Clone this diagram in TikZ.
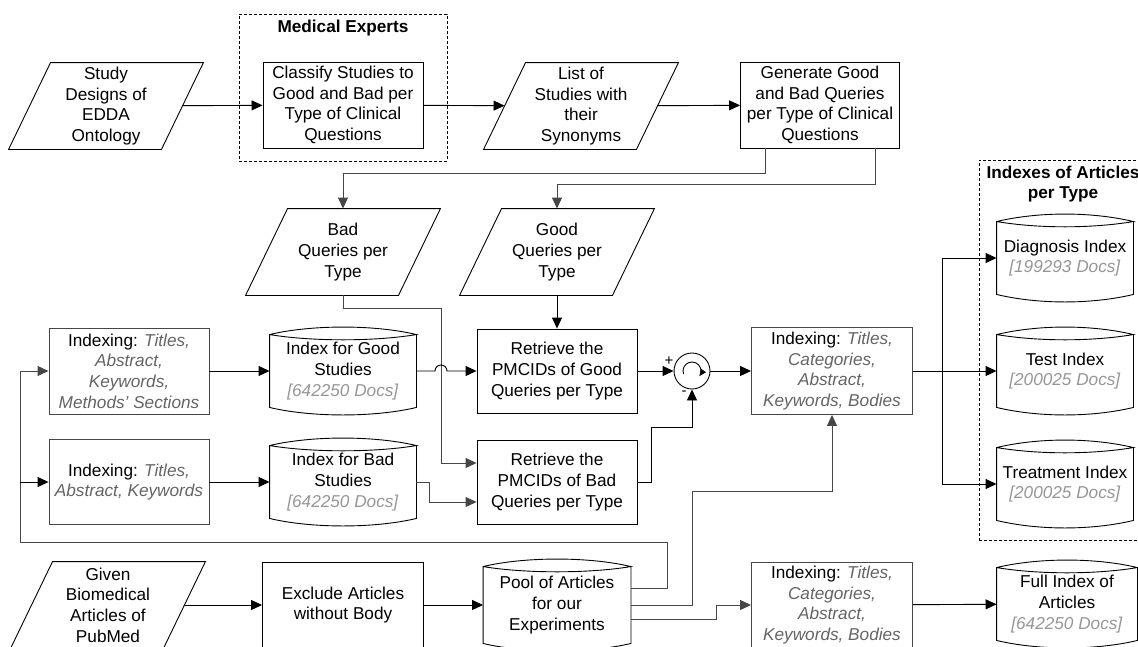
\documentclass[tikz,border=0pt]{standalone}
\usepackage{fontspec}
\setmainfont{Liberation Sans}
\usetikzlibrary{positioning,calc,arrows.meta,fit}

\definecolor{fieldgray}{RGB}{100,100,100}
\definecolor{docgray}{RGB}{150,150,150}
\definecolor{linegray}{RGB}{70,70,70}
\newcommand{\fld}[1]{\textcolor{fieldgray}{\textit{#1}}}
\newcommand{\docs}[1]{\textcolor{docgray}{\textit{[#1 Docs]}}}

\begin{document}
\begin{tikzpicture}[
  x=1pt, y=-1pt,
  line width=0.9pt,
  font=\fontsize{17.2}{20.7}\selectfont,
  process/.style={draw, rectangle, minimum width=160, minimum height=86, inner sep=1pt, align=center},
  indexing/.style={process, draw=linegray},
  slanted/.style={rectangle, minimum width=152, minimum height=86, inner sep=1pt, align=center},
  store/.style={rectangle, minimum width=146, minimum height=88, inner sep=1pt, align=center},
  dashgroup/.style={draw, dash pattern=on 3pt off 2pt, inner sep=0pt},
  heading/.style={font=\fontsize{17.2}{20.7}\selectfont\bfseries, align=center},
  sign/.style={inner sep=0pt, font=\fontsize{15}{15}\selectfont},
  flow/.style={-{Triangle[length=11pt,width=10pt]}},
  grey-flow/.style={flow, draw=linegray},
  ]
  \useasboundingbox (0,0) rectangle (1138,646);

  % top row
  \node [slanted] (designs) at (106,106) {Study\\Designs of\\EDDA\\Ontology};
  \node [process] (classify) at (343,105) {Classify Studies to\\Good and Bad per\\Type of Clinical\\Questions};
  \node [dashgroup, fit={(239,14) (447,161)}] (experts) {};
  \node [heading] (expertsname) at (343,28) {Medical Experts};
  \node [slanted] (studylist) at (581,106) {List of\\Studies with\\their\\Synonyms};
  \node [process, minimum width=159] (generate) at (820,105) {Generate Good\\and Bad Queries\\per Type of Clinical\\Questions};

  \node [slanted] (badq) at (343,252) {Bad\\Queries per\\Type};
  \node [slanted] (goodq) at (557,252) {Good\\Queries per\\Type};

  % indexing of the studies
  \node [indexing] (index1) at (129,371) {Indexing: \fld{Titles,}\\\fld{Abstract,}\\\fld{Keywords,}\\\fld{Methods' Sections}};
  \node [store] (idxgood) at (343,371) {Index for Good\\Studies\\\docs{642250}};
  \node [process, minimum height=84] (retgood) at (557,371) {Retrieve the\\PMCIDs of Good\\Queries per Type};
  \node [circle, draw, minimum size=36, inner sep=0pt] (diff) at (692,371) {};
  \node [sign] (plus) at (669,361) {+};
  \node [sign] (minus) at (684,393) {-};
  \node [indexing, minimum width=161, minimum height=87] (index3) at (832,371) {Indexing: \fld{Titles,}\\\fld{Categories,}\\\fld{Abstract,}\\\fld{Keywords, Bodies}};

  \node [indexing, minimum height=85] (index2) at (129,482) {Indexing: \fld{Titles,}\\\fld{Abstract, Keywords}};
  \node [store] (idxbad) at (343,482) {Index for Bad\\Studies\\\docs{642250}};
  \node [process, minimum height=84] (retbad) at (557,482) {Retrieve the\\PMCIDs of Bad\\Queries per Type};

  % indexes per type
  \node [dashgroup, fit={(979,160) (1150,540)}] (indexes) {};
  \node [heading] (indexesname) at (1063,184) {Indexes of Articles\\per Type};
  \node [store, minimum width=136] (diag) at (1065,258) {Diagnosis Index\\\docs{199293}};
  \node [store, minimum width=136] (test) at (1065,371) {Test Index\\\docs{200025}};
  \node [store, minimum width=136] (treat) at (1065,484) {Treatment Index\\\docs{200025}};

  % bottom row
  \node [slanted] (pubmed) at (108,605) {Given\\Biomedical\\Articles of\\PubMed};
  \node [process, minimum width=161] (exclude) at (343,605) {Exclude Articles\\without Body};
  \node [store, minimum width=147, minimum height=92] (pool) at (557,605) {Pool of Articles\\for our\\Experiments};
  \node [indexing, minimum width=161] (index4) at (832,605) {Indexing: \fld{Titles,}\\\fld{Categories,}\\\fld{Abstract,}\\\fld{Keywords, Bodies}};
  \node [store, minimum width=140] (full) at (1067,604) {Full Index of\\Articles\\\docs{642250}};

  % outlines
  \foreach \s in {designs,studylist,badq,goodq,pubmed}
    \draw ([xshift=21pt]\s.north west) -- ([xshift=21pt]\s.north east)
      -- ([xshift=-21pt]\s.south east) -- ([xshift=-21pt]\s.south west) -- cycle;
  \foreach \s in {idxgood,idxbad,diag,test,treat,pool,full}
    \draw ([yshift=-8pt]\s.north west) .. controls +(42,-10) and +(-42,-10) .. ([yshift=-8pt]\s.north east)
      .. controls +(-42,7) and +(42,7) .. ([yshift=-8pt]\s.north west)
      -- ([yshift=8pt]\s.south west) .. controls +(42,10) and +(-42,10) .. ([yshift=8pt]\s.south east)
      -- ([yshift=-8pt]\s.north east);
  \draw [-{Triangle[length=7pt,width=6pt]}] ([shift={(200:9pt)}]diff.center)
    arc [start angle=200, end angle=-35, radius=9pt];

  \coordinate (badbend) at (441,308);
  \coordinate (hop) at (badbend |- idxgood.east);
  \coordinate (loopleft) at (20,542);
  \coordinate (upturn) at (692,491);

  \draw [flow] (designs) -- (classify);
  \draw [flow] (classify) -- (studylist);
  \draw [flow] (studylist) -- (generate);
  \draw [grey-flow] ([xshift=-55pt]generate.south) -- ++(0,25) -| (badq.north);
  \draw [grey-flow] ([xshift=55pt]generate.south) -- ++(0,36) -| (goodq.north);
  \draw [flow] (goodq) -- (retgood);
  \draw [grey-flow] (badq.south) |- (badbend) |- ([yshift=19pt]retbad.west);
  \draw [flow] (index1) -- (idxgood);
  \draw [flow] (idxgood.east) -- ([xshift=-6pt]hop) arc [start angle=180, end angle=0, radius=6pt] -- (retgood.west);
  \draw [flow] (index2) -- (idxbad);
  \draw [grey-flow] (idxbad.east) -- ++(13,0) |- ([yshift=-20pt]retbad.west);
  \draw [flow] (retgood) -- (diff);
  \draw [flow] (retbad.east) -- ++(14,0) |- ([yshift=-38pt]diff.south) -- (diff.south);
  \draw [flow] (diff) -- (index3);
  \draw [flow] (index3) -- (test);
  \draw [flow] (index3.east) -- ++(29,0) |- (diag.west);
  \draw [flow] (index3.east) -- ++(29,0) |- (treat.west);

  \draw [flow] (pubmed) -- (exclude);
  \draw [flow] (exclude) -- (pool);
  \draw [grey-flow] ([yshift=17pt]pool.east) -- ++(36,0) |- (loopleft) |- (index1.west);
  \draw [flow] (loopleft |- index2.west) -- (index2.west);
  \draw [grey-flow] (pool.east) -| (upturn) -| (index3.south);
  \draw [grey-flow] ([yshift=-14pt]pool.east) -- ++(85,0) |- (index4.west);
  \draw [flow] (index4) -- (full);
\end{tikzpicture}
\end{document}
